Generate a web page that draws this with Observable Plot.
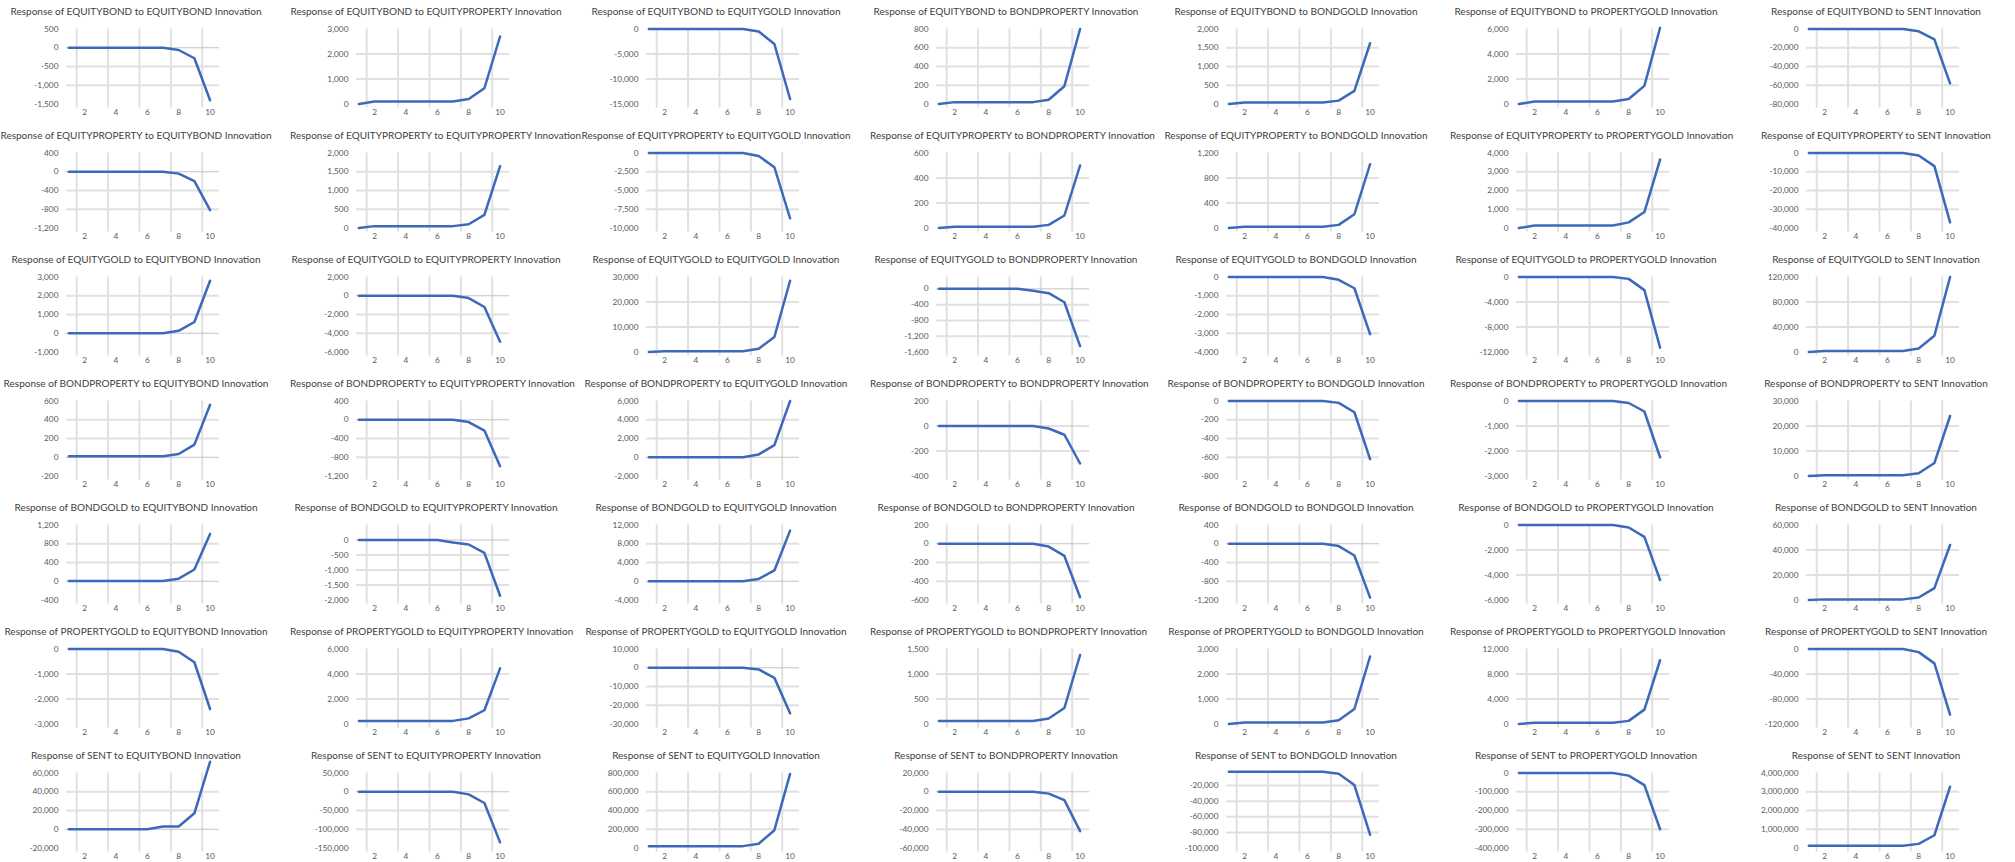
<!DOCTYPE html>
<html>
<head>
<meta charset="utf-8">
<script src="https://cdn.jsdelivr.net/npm/d3@7"></script>
<script src="https://cdn.jsdelivr.net/npm/@observablehq/plot@0.6"></script>
<style>
  html, body { margin: 0; padding: 0; background: #ffffff; }
  #grid { position: relative; width: 2015px; height: 862px; overflow: hidden; font-family: Lato, "Open Sans", sans-serif; }
  .panel { position: absolute; width: 290px; height: 124px; }
  .panel svg { position: absolute; left: 0; top: 0; overflow: visible; }
  .title { position: absolute; left: 0; top: 4px; width: 272px; text-align: center; font-size: 10px; font-weight: 400; line-height: 14px; color: #404040; white-space: nowrap; z-index: 2; }
</style>
</head>
<body>
<div id="grid"></div>
<script>
// ---------- data ----------
const variables = ["EQUITYBOND", "EQUITYPROPERTY", "EQUITYGOLD", "BONDPROPERTY", "BONDGOLD", "PROPERTYGOLD", "SENT"];
const periods = [1, 2, 3, 4, 5, 6, 7, 8, 9, 10];
const xTickLabels = [2, 4, 6, 8, 10];
const xGridPositions = [1.5, 3.5, 5.5, 7.5, 9.5];

// responses of each variable (rows) to each innovation (columns, same order as variables)
const respEQUITYBOND = [
  [0, 0, 0, 0, 0, 0, 0, -60, -280, -1400],
  [0, 100, 100, 100, 100, 100, 100, 200, 630, 2700],
  [0, 0, 0, 0, 0, 0, 0, -500, -3000, -14000],
  [0, 20, 20, 20, 20, 20, 20, 45, 190, 800],
  [0, 40, 40, 40, 40, 40, 40, 90, 350, 1620],
  [0, 200, 200, 200, 200, 200, 200, 400, 1450, 6100],
  [0, 0, 0, 0, 0, 0, 0, -2500, -11000, -58000]
];
const respEQUITYPROPERTY = [
  [0, 0, 0, 0, 0, 0, 0, -40, -200, -820],
  [0, 50, 50, 50, 50, 50, 50, 100, 350, 1650],
  [0, 0, 0, 0, 0, 0, 0, -400, -1900, -8700],
  [0, 10, 10, 10, 10, 10, 10, 25, 100, 500],
  [0, 20, 20, 20, 20, 20, 20, 50, 220, 1020],
  [0, 130, 130, 130, 130, 130, 130, 300, 850, 3650],
  [0, 0, 0, 0, 0, 0, 0, -1300, -7000, -37000]
];
const respEQUITYGOLD = [
  [0, 0, 0, 0, 0, 0, 0, 130, 600, 2800],
  [0, 0, 0, 0, 0, 0, 0, -250, -1200, -4900],
  [0, 300, 300, 300, 300, 300, 300, 1300, 6000, 28500],
  [0, 0, 0, 0, 0, 0, -50, -110, -340, -1450],
  [0, 0, 0, 0, 0, 0, 0, -150, -600, -3050],
  [0, 0, 0, 0, 0, 0, 0, -300, -2100, -11300],
  [0, 1500, 1500, 1500, 1500, 1500, 1500, 5500, 26000, 120000]
];
const respBONDPROPERTY = [
  [10, 10, 10, 10, 10, 10, 10, 35, 135, 560],
  [0, 0, 0, 0, 0, 0, 0, -50, -230, -990],
  [0, 0, 0, 0, 0, 0, 0, 300, 1300, 6000],
  [0, 0, 0, 0, 0, 0, 0, -20, -70, -300],
  [0, 0, 0, 0, 0, 0, 0, -20, -120, -620],
  [0, 0, 0, 0, 0, 0, 0, -80, -420, -2250],
  [0, 300, 300, 300, 300, 300, 300, 1100, 5200, 24000]
];
const respBONDGOLD = [
  [5, 5, 5, 5, 5, 5, 5, 55, 250, 1010],
  [0, 0, 0, 0, 0, 0, -80, -150, -430, -1860],
  [0, 0, 0, 0, 0, 0, 0, 500, 2300, 10800],
  [0, 0, 0, 0, 0, 0, 0, -30, -130, -570],
  [0, 0, 0, 0, 0, 0, 0, -50, -250, -1150],
  [0, 0, 0, 0, 0, 0, 0, -200, -950, -4400],
  [0, 500, 500, 500, 500, 500, 500, 2000, 9500, 44000]
];
const respPROPERTYGOLD = [
  [0, 0, 0, 0, 0, 0, 0, -110, -530, -2400],
  [250, 250, 250, 250, 250, 250, 250, 450, 1100, 4450],
  [0, 0, 0, 0, 0, 0, 0, -900, -5400, -24300],
  [60, 60, 60, 60, 60, 60, 60, 110, 320, 1380],
  [0, 60, 60, 60, 60, 60, 60, 150, 600, 2700],
  [0, 200, 200, 200, 200, 200, 200, 500, 2300, 10200],
  [0, 0, 0, 0, 0, 0, 0, -5000, -23000, -105000]
];
const respSENT = [
  [0, 0, 0, 0, 0, 0, 3000, 3000, 17000, 72000],
  [0, 0, 0, 0, 0, 0, 0, -7000, -30000, -135000],
  [20000, 20000, 20000, 20000, 20000, 20000, 20000, 45000, 190000, 790000],
  [0, 0, 0, 0, 0, 0, 0, -2000, -9000, -42000],
  [-2500, -2500, -2500, -2500, -2500, -2500, -2500, -5000, -19500, -83000],
  [0, 0, 0, 0, 0, 0, 0, -14000, -65000, -300000],
  [120000, 120000, 120000, 120000, 120000, 120000, 120000, 220000, 680000, 3270000]
];

// y tick labels of each panel
const ticksEQUITYBOND = [
  [-1500, -1000, -500, 0, 500],
  [0, 1000, 2000, 3000],
  [-15000, -10000, -5000, 0],
  [0, 200, 400, 600, 800],
  [0, 500, 1000, 1500, 2000],
  [0, 2000, 4000, 6000],
  [-80000, -60000, -40000, -20000, 0]
];
const ticksEQUITYPROPERTY = [
  [-1200, -800, -400, 0, 400],
  [0, 500, 1000, 1500, 2000],
  [-10000, -7500, -5000, -2500, 0],
  [0, 200, 400, 600],
  [0, 400, 800, 1200],
  [0, 1000, 2000, 3000, 4000],
  [-40000, -30000, -20000, -10000, 0]
];
const ticksEQUITYGOLD = [
  [-1000, 0, 1000, 2000, 3000],
  [-6000, -4000, -2000, 0, 2000],
  [0, 10000, 20000, 30000],
  [-1600, -1200, -800, -400, 0],
  [-4000, -3000, -2000, -1000, 0],
  [-12000, -8000, -4000, 0],
  [0, 40000, 80000, 120000]
];
const ticksBONDPROPERTY = [
  [-200, 0, 200, 400, 600],
  [-1200, -800, -400, 0, 400],
  [-2000, 0, 2000, 4000, 6000],
  [-400, -200, 0, 200],
  [-800, -600, -400, -200, 0],
  [-3000, -2000, -1000, 0],
  [0, 10000, 20000, 30000]
];
const ticksBONDGOLD = [
  [-400, 0, 400, 800, 1200],
  [-2000, -1500, -1000, -500, 0],
  [-4000, 0, 4000, 8000, 12000],
  [-600, -400, -200, 0, 200],
  [-1200, -800, -400, 0, 400],
  [-6000, -4000, -2000, 0],
  [0, 20000, 40000, 60000]
];
const ticksPROPERTYGOLD = [
  [-3000, -2000, -1000, 0],
  [0, 2000, 4000, 6000],
  [-30000, -20000, -10000, 0, 10000],
  [0, 500, 1000, 1500],
  [0, 1000, 2000, 3000],
  [0, 4000, 8000, 12000],
  [-120000, -80000, -40000, 0]
];
const ticksSENT = [
  [-20000, 0, 20000, 40000, 60000],
  [-150000, -100000, -50000, 0, 50000],
  [0, 200000, 400000, 600000, 800000],
  [-60000, -40000, -20000, 0, 20000],
  [-100000, -80000, -60000, -40000, -20000],
  [-400000, -300000, -200000, -100000, 0],
  [0, 1000000, 2000000, 3000000, 4000000]
];

// panels whose value axis tops out above the last labelled tick
const axisMaxOverrides = [
  { response: "EQUITYGOLD", innovation: "BONDPROPERTY", max: 300 },
  { response: "BONDGOLD", innovation: "EQUITYPROPERTY", max: 500 },
  { response: "SENT", innovation: "BONDGOLD", max: -4000 }
];

const responses = [respEQUITYBOND, respEQUITYPROPERTY, respEQUITYGOLD, respBONDPROPERTY, respBONDGOLD, respPROPERTYGOLD, respSENT];
const tickSets = [ticksEQUITYBOND, ticksEQUITYPROPERTY, ticksEQUITYGOLD, ticksBONDPROPERTY, ticksBONDGOLD, ticksPROPERTYGOLD, ticksSENT];

// ---------- drawing ----------
const fmt = d => d.toLocaleString("en-US");
const grid = document.getElementById("grid");
const colPitch = 290, rowPitch = 124;

variables.forEach((resp, r) => {
  variables.forEach((innov, c) => {
    const values = responses[r][c];
    const ticks = tickSets[r][c];
    const ov = axisMaxOverrides.find(o => o.response === resp && o.innovation === innov);
    const lo = d3.min(ticks);
    const hi = ov ? ov.max : d3.max(ticks);
    const zeroInside = lo < 0 && hi > 0;
    const interior = ticks.filter(t => t > lo && t < hi && !(zeroInside && t === 0));
    const rows = periods.map((p, i) => ({ period: p, value: values[i] }));

    const panel = document.createElement("div");
    panel.className = "panel";
    panel.style.left = (c * colPitch) + "px";
    panel.style.top = (r * rowPitch) + "px";

    const svg = Plot.plot({
      width: 290,
      height: 124,
      marginLeft: 66,
      marginRight: 71,
      marginTop: 28.5,
      marginBottom: 20.5,
      x: { domain: [0.85, 10.6] },
      y: { domain: [lo, hi] },
      style: { fontFamily: "Lato, 'Open Sans', sans-serif", fontSize: "8.3px", color: "#595959", background: "transparent", overflow: "visible" },
      marks: [
        Plot.ruleX(xGridPositions, { stroke: "#e0e0e0", strokeWidth: 2, insetBottom: -4 }),
        Plot.ruleY(interior, { stroke: "#e0e0e0", strokeWidth: 2 }),
        zeroInside ? Plot.ruleY([0], { stroke: "#c3c3c3", strokeWidth: 1 }) : null,
        Plot.axisY(ticks, { tickSize: 0, tickPadding: 8, tickFormat: fmt, label: null }),
        Plot.axisX(xTickLabels, { tickSize: 0, tickPadding: 5, tickFormat: d => String(d), label: null }),
        Plot.line(rows, { x: "period", y: "value", stroke: "#3c69ba", strokeWidth: 2.5, strokeLinejoin: "round", strokeLinecap: "round", clip: false })
      ]
    });
    panel.appendChild(svg);

    const title = document.createElement("div");
    title.className = "title";
    title.textContent = "Response of " + resp + " to " + innov + " Innovation";
    panel.appendChild(title);

    grid.appendChild(panel);
  });
});
</script>
</body>
</html>
